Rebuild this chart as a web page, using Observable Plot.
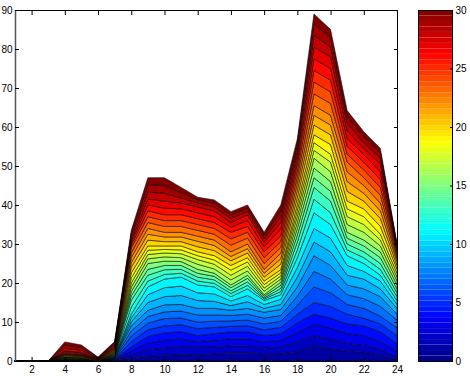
<!DOCTYPE html>
<html><head><meta charset="utf-8">
<script src="https://cdn.jsdelivr.net/npm/d3@7"></script>
<script src="https://cdn.jsdelivr.net/npm/@observablehq/plot@0.6"></script>
<style>
html,body{margin:0;padding:0;background:#fff;overflow:hidden;}
#wrap{position:relative;width:470px;height:376px;}
#wrap svg{position:absolute;left:0;top:0;}
</style></head><body><div id="wrap"></div>
<script>
// x positions (hours) and layer ids
const hours = [1,2,3,4,5,6,7,8,9,10,11,12,13,14,15,16,17,18,19,20,21,22,23,24];
const layerIds = [1,2,3,4,5,6,7,8,9,10,11,12,13,14,15,16,17,18,19,20,21,22,23,24,25,26,27,28,29,30];
const xTicks = [2,4,6,8,10,12,14,16,18,20,22,24];
const yTicks = [0,10,20,30,40,50,60,70,80,90];
const barTicks = [0,5,10,15,20,25,30];

// cumulative top of each layer (layer 1 .. 30) at each hour
const hour1 = [0,0,0,0,0,0,0,0,0,0,0,0,0,0,0,0,0,0,0,0,0,0,0,0,0,0,0,0,0,0];
const hour2 = [0,0,0,0,0,0,0,0,0,0,0,0,0,0,0,0,0,0,0,0,0,0,0,0,0,0,0,0,0,0];
const hour3 = [0,0,0,0,0,0,0,0,0,0,0,0,0,0,0,0,0,0,0,0,0,0,0,0,0,0,0,0,0,0];
const hour4 = [0.1,0.15,0.2,0.25,0.3,0.3,0.35,0.35,0.4,0.4,0.45,0.5,0.6,0.7,0.8,0.85,0.95,1.0,1.1,1.25,1.4,1.55,1.7,1.85,2.0,2.3,2.6,3.3,4.1,4.9];
const hour5 = [0.05,0.1,0.15,0.2,0.25,0.25,0.3,0.3,0.35,0.35,0.4,0.45,0.5,0.6,0.65,0.7,0.8,0.85,0.9,1.05,1.2,1.3,1.45,1.55,1.7,1.95,2.2,2.8,3.45,4.1];
const hour6 = [0,0,0,0,0,0,0,0,0,0,0,0,0,0,0,0,0,0,0,0.1,0.2,0.25,0.3,0.4,0.45,0.55,0.65,0.75,0.85,1.0];
const hour7 = [0.1,0.2,0.35,0.5,0.6,0.7,0.8,0.9,1.0,1.1,1.2,1.35,1.5,1.6,1.75,1.9,2.0,2.15,2.3,2.5,2.7,2.9,3.1,3.3,3.5,3.8,4.1,4.4,4.7,5.0];
const hour8 = [0.8,1.6,2.6,3.6,5.0,6.4,7.7,9.0,10.0,11.0,12.0,13.8,15.6,16.7,17.8,18.9,20.0,21.3,22.6,24.0,25.2,26.5,27.7,29.0,29.7,30.4,31.0,31.8,32.6,33.5];
const hour9 = [1.2,2.9,4.6,6.3,8.0,9.7,11.4,13.0,15.0,17.0,19.0,20.5,22.0,23.5,25.0,26.2,27.3,28.4,29.5,31.0,32.5,34.0,35.5,37.0,38.5,40.0,41.5,43.3,45.2,47.0];
const hour10 = [1.4,3.3,5.3,7.2,9.0,10.9,12.6,14.4,16.5,18.8,21.0,22.2,23.4,24.5,25.6,26.7,27.7,28.6,29.5,30.6,31.8,33.0,34.5,36.0,37.5,39.2,41.0,43.0,45.0,47.0];
const hour11 = [1.6,3.6,5.6,7.5,9.3,11.0,12.8,14.5,16.8,19.2,21.5,22.5,23.5,24.5,25.5,26.5,27.5,28.5,29.5,30.6,31.8,33.0,34.5,36.0,37.5,39.0,40.5,41.8,43.2,44.5];
const hour12 = [1.5,3.5,5.0,6.5,8.3,10.0,11.8,13.5,15.5,17.5,19.5,20.5,21.5,22.5,23.5,24.8,26.0,27.0,28.0,29.3,30.7,32.0,33.5,35.0,36.5,38.0,39.5,40.5,41.3,42.0];
const hour13 = [1.8,3.6,5.3,7.0,8.6,10.2,11.8,13.5,15.3,17.2,19.0,19.9,20.8,21.7,22.5,23.6,24.8,25.9,27.0,28.3,29.6,31.0,32.5,34.0,35.5,37.0,38.5,39.5,40.4,41.3];
const hour14 = [2.0,3.9,5.7,7.5,8.9,10.3,11.7,13.0,14.2,15.4,16.5,17.3,18.0,18.8,19.5,20.8,22.0,23.3,24.5,25.7,26.8,28.0,29.7,31.3,33.0,34.3,35.5,36.5,37.4,38.3];
const hour15 = [2.0,3.9,5.7,7.5,9.0,10.5,12.0,13.5,15.2,16.8,18.5,19.4,20.3,21.2,22.0,23.1,24.3,25.4,26.5,27.7,28.8,30.0,31.5,33.0,34.5,36.0,37.5,38.4,39.2,40.0];
const hour16 = [1.7,3.3,4.9,6.5,8.0,9.5,11.0,12.5,13.5,14.5,15.5,15.9,16.2,16.6,17.0,17.9,18.7,19.6,20.5,21.5,22.5,23.5,25.0,26.5,28.0,29.3,30.5,31.3,32.2,33.0];
const hour17 = [1.8,3.5,5.3,7.0,8.6,10.2,11.7,13.2,14.5,15.8,17.0,17.8,18.6,19.4,20.2,21.0,21.8,22.6,23.4,24.8,26.2,27.6,29.1,30.6,32.1,33.8,35.5,37.0,38.5,40.0];
const hour18 = [2.4,4.9,7.3,9.8,12.0,14.3,16.6,19.0,21.5,24.0,26.5,28.5,30.5,32.3,34.0,35.6,37.2,38.7,40.2,42.0,43.8,45.6,47.3,49.0,50.6,52.0,53.4,54.6,55.8,57.0];
const hour19 = [4,6.5,9.5,12,15,19,23,27,30.5,34,38,41.5,44.5,47,49.5,52,54,56,58,60.5,63,65.5,68.5,71.5,74.5,77.5,80.5,83.5,86.5,89];
const hour20 = [3,5.5,8.5,11,14,17.5,21,24.5,28,31.5,35,38,41,43.5,46,48.5,51,53,55.5,58,60.5,63,66,69,72,75,78,80.5,83,85];
const hour21 = [2.5,4.5,7,9.5,12,14.5,17,19.5,22,24.5,27,28.5,30,31.5,33,35,37,39,41,43.5,46,48.5,51,53,55,57,59,61,62.7,64.2];
const hour22 = [2.3,4,6.5,9,11,13.5,16,18.5,21,23,25,26.5,28,29.5,31,33,35,37,39,41,43,45,47,49,51,53,54.5,56,57.5,58.8];
const hour23 = [1.5,3,5,7.5,9.5,11.5,14,16.5,18.5,20.5,22,23.5,25,26.5,28,29.5,31,32.5,34.5,36.5,38.5,40.5,42.5,44.5,46.5,48.5,50.5,52,53.3,54.5];
const hour24 = [0.3,1,2.5,4.5,6.5,8.5,10.5,12,13.5,14.5,15.5,16.5,17.5,18.5,19.5,20.5,21.5,22.5,23.5,24.5,25.5,26.3,27,27.7,28.3,28.8,29.2,29.5,29.8,30];

const tops = [hour1,hour2,hour3,hour4,hour5,hour6,hour7,hour8,hour9,hour10,hour11,hour12,
  hour13,hour14,hour15,hour16,hour17,hour18,hour19,hour20,hour21,hour22,hour23,hour24];

const rows = [];
layerIds.forEach((id, li) => {
  hours.forEach((h, hi) => {
    rows.push({hour: h, layer: id, low: li === 0 ? 0 : tops[hi][li - 1], high: tops[hi][li]});
  });
});

// jet colormap as a piecewise linear color scale
const jet = {type: "linear", domain: [0, 3.75, 11.25, 18.75, 26.25, 30],
  range: ["#000080", "#0000ff", "#00ffff", "#ffff00", "#ff0000", "#800000"], interpolate: "rgb"};
const font = "'Liberation Sans', Arial, Helvetica, sans-serif";
const blank = () => "";

const main = Plot.plot({
  width: 470, height: 376,
  marginLeft: 15, marginRight: 73, marginTop: 10, marginBottom: 15,
  style: {fontFamily: font, fontSize: "10px", background: "#fff", color: "#000"},
  x: {domain: [1, 24], label: null},
  y: {domain: [0, 90], label: null},
  color: jet,
  marks: [
    Plot.areaY(rows, {x: "hour", y1: "low", y2: "high", z: "layer", fill: "layer",
      stroke: "#000", strokeWidth: 0.6, strokeOpacity: 0.9}),
    Plot.frame({stroke: "#000", strokeWidth: 1}),
    Plot.ruleX([1], {stroke: "#555", strokeWidth: 1.5}),
    Plot.axisX(xTicks, {anchor: "bottom", tickSize: 0, tickPadding: 4, fill: "#000", label: null}),
    Plot.axisY(yTicks, {anchor: "left", tickSize: 0, tickPadding: 3, fill: "#000", label: null}),
    Plot.axisX(xTicks, {anchor: "bottom", tickSize: 4, dy: -4, tickFormat: blank, label: null}),
    Plot.axisX(xTicks, {anchor: "top", tickSize: 4, dy: 4, tickFormat: blank, label: null}),
    Plot.axisY(yTicks, {anchor: "left", tickSize: 4, dx: 4, tickFormat: blank, label: null}),
    Plot.axisY(yTicks, {anchor: "right", tickSize: 4, dx: -4, tickFormat: blank, label: null})
  ]
});

const steps = d3.range(64).map(k => ({y1: k * 30 / 64, y2: (k + 1) * 30 / 64, v: (k + 0.5) * 30 / 64}));
const bar = Plot.plot({
  width: 470, height: 376,
  marginLeft: 418, marginRight: 18, marginTop: 10, marginBottom: 15,
  style: {fontFamily: font, fontSize: "10px", background: "transparent", color: "#000"},
  x: {domain: [0, 1], axis: null, label: null},
  y: {domain: [0, 30], label: null},
  color: jet,
  marks: [
    Plot.rect(steps, {x1: 0, x2: 1, y1: "y1", y2: "y2", fill: "v"}),
    Plot.frame({stroke: "#000", strokeWidth: 1}),
    Plot.axisY(barTicks, {anchor: "right", tickSize: 0, tickPadding: 3, fill: "#000", label: null}),
    Plot.axisY(barTicks, {anchor: "right", tickSize: 3, dx: -3, tickFormat: blank, label: null})
  ]
});
bar.style.pointerEvents = "none";
const wrap = document.getElementById("wrap");
wrap.appendChild(main);
wrap.appendChild(bar);
</script>
</body></html>
